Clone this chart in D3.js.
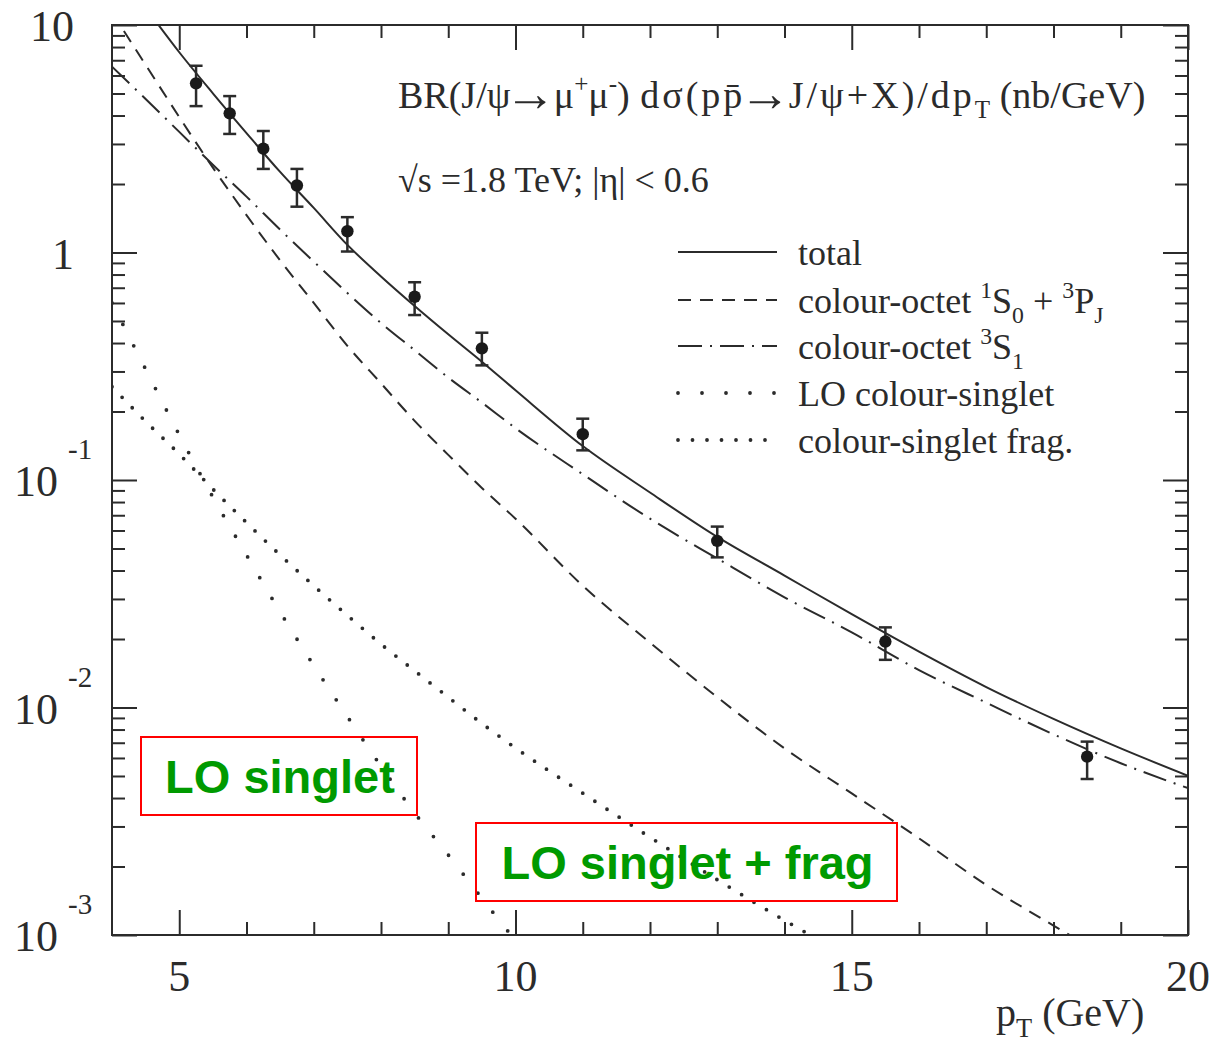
<!DOCTYPE html>
<html>
<head>
<meta charset="utf-8">
<script src="https://cdn.jsdelivr.net/npm/d3@7"></script>
<style>
  html, body { margin: 0; padding: 0; background: #fff; }
  svg { display: block; }
</style>
</head>
<body>
<svg id="chart" width="1210" height="1043"></svg>
<script>
// ---- data: J/psi differential cross-section, p pbar at sqrt(s) = 1.8 TeV ----
const ptGrid = [4, 4.5, 5, 5.5, 6, 6.5, 7, 7.5, 8, 8.5, 9, 9.5, 10, 11, 12, 13, 14, 15, 16, 17, 18, 19, 20];

// theory curves (nb/GeV), one value per ptGrid entry (shorter arrays stop early)
const totalXsec   = [18.6, 11.9, 7.59, 5.01, 3.35, 2.26, 1.57, 1.08, 0.785, 0.582, 0.437, 0.331, 0.248,
                     0.141, 0.0881, 0.0562, 0.0380, 0.0257, 0.0176, 0.0123, 0.00891, 0.00661, 0.00501];
const octetS0PJ   = [11.35, 6.68, 3.94, 2.36, 1.46, 0.923, 0.600, 0.389, 0.266, 0.182, 0.129, 0.0923, 0.0676,
                     0.0343, 0.0193, 0.0111, 0.00661, 0.00419, 0.00266, 0.00166, 0.00110, 0.000741, 0.000501];
const octetS1     = [6.56, 4.73, 3.39, 2.43, 1.76, 1.26, 0.912, 0.664, 0.490, 0.372, 0.282, 0.219, 0.169,
                     0.106, 0.0676, 0.0452, 0.0305, 0.0214, 0.0146, 0.0105, 0.00762, 0.00569, 0.00442];
const loSinglet   = [0.600, 0.307, 0.158, 0.0841, 0.0468, 0.0263, 0.0153, 0.00912, 0.00552, 0.00344,
                     0.00225, 0.00145, 0.000944, 0.000407];
const singletFrag = [0.257, 0.181, 0.130, 0.0912, 0.0650, 0.0468, 0.0343, 0.0254, 0.0190, 0.0145,
                     0.0111, 0.00851, 0.00664, 0.00420, 0.00269, 0.00175, 0.00116, 0.000794];

// measured points with error bars
const dataPt   = [5.25, 5.75, 6.25, 6.75, 7.5, 8.5, 9.5, 11, 13, 15.5, 18.5];
const dataXsec = [5.54, 4.09, 2.86, 1.97, 1.24, 0.639, 0.379, 0.159, 0.0540, 0.0195, 0.00608];
const dataLow  = [4.40, 3.32, 2.33, 1.59, 1.01, 0.531, 0.319, 0.135, 0.0457, 0.0162, 0.00485];
const dataHigh = [6.62, 4.87, 3.42, 2.33, 1.43, 0.740, 0.444, 0.186, 0.0624, 0.0225, 0.00708];

// axis ticks
const xMajorTicks = [5, 10, 15, 20];
const xMinorTicks = [6, 7, 8, 9, 11, 12, 13, 14, 16, 17, 18, 19];
const yMajorTicks = [10, 1, 0.1, 0.01, 0.001];
const yTickMantissa = ["10", "1", "10", "10", "10"];
const yTickExponent = ["", "", "-1", "-2", "-3"];

// legend entries (rich text parts: sup / sub)
const legendNames = [
  [{t: "total"}],
  [{t: "colour-octet "}, {t: "1", sup: true}, {t: "S"}, {t: "0", sub: true}, {t: " + "}, {t: "3", sup: true}, {t: "P"}, {t: "J", sub: true}],
  [{t: "colour-octet "}, {t: "3", sup: true}, {t: "S"}, {t: "1", sub: true}],
  [{t: "LO colour-singlet"}],
  [{t: "colour-singlet frag."}]
];

// ---- layout ----
const W = 1210, H = 1043;
const plot = {left: 112, right: 1188, top: 25, bottom: 935};
const ink = "#2b2b2b";
const serif = "'Liberation Serif', 'Times New Roman', Times, serif";
const sans = "'Liberation Sans', Arial, Helvetica, sans-serif";

const svg = d3.select("#chart");
svg.append("rect").attr("width", W).attr("height", H).attr("fill", "#fff");

const x = d3.scaleLinear().domain([4, 20]).range([plot.left, plot.right]);
const y = d3.scaleLog().domain([0.001, 10]).range([plot.bottom, plot.top]);

// clip for curves
svg.append("defs").append("clipPath").attr("id", "plotClip")
  .append("rect")
  .attr("x", plot.left).attr("y", plot.top)
  .attr("width", plot.right - plot.left).attr("height", plot.bottom - plot.top);

// ---- ticks (inward, on all four sides) ----
const yMinor = [];
[0.001, 0.01, 0.1, 1].forEach(d => { for (let m = 2; m <= 9; m++) yMinor.push(d * m); });

function styleAxis(g) {
  g.select(".domain").remove();
  g.selectAll(".tick line").attr("stroke", ink).attr("stroke-width", 2);
  g.selectAll(".tick text").remove();
}
const majorLen = 25, minorLen = 13;
svg.append("g").attr("transform", `translate(${plot.left},0)`)
  .call(d3.axisLeft(y).tickValues(yMajorTicks).tickSize(-majorLen).tickFormat("")).call(styleAxis);
svg.append("g").attr("transform", `translate(${plot.left},0)`)
  .call(d3.axisLeft(y).tickValues(yMinor).tickSize(-minorLen).tickFormat("")).call(styleAxis);
svg.append("g").attr("transform", `translate(${plot.right},0)`)
  .call(d3.axisRight(y).tickValues(yMajorTicks).tickSize(-majorLen).tickFormat("")).call(styleAxis);
svg.append("g").attr("transform", `translate(${plot.right},0)`)
  .call(d3.axisRight(y).tickValues(yMinor).tickSize(-minorLen).tickFormat("")).call(styleAxis);
svg.append("g").attr("transform", `translate(0,${plot.bottom})`)
  .call(d3.axisBottom(x).tickValues(xMajorTicks).tickSize(-majorLen).tickFormat("")).call(styleAxis);
svg.append("g").attr("transform", `translate(0,${plot.bottom})`)
  .call(d3.axisBottom(x).tickValues(xMinorTicks).tickSize(-minorLen).tickFormat("")).call(styleAxis);
svg.append("g").attr("transform", `translate(0,${plot.top})`)
  .call(d3.axisTop(x).tickValues(xMajorTicks).tickSize(-majorLen).tickFormat("")).call(styleAxis);
svg.append("g").attr("transform", `translate(0,${plot.top})`)
  .call(d3.axisTop(x).tickValues(xMinorTicks).tickSize(-minorLen).tickFormat("")).call(styleAxis);

// frame
svg.append("rect")
  .attr("x", plot.left).attr("y", plot.top)
  .attr("width", plot.right - plot.left).attr("height", plot.bottom - plot.top)
  .attr("fill", "none").attr("stroke", ink).attr("stroke-width", 2);

// ---- tick labels ----
const tickFont = 44;
svg.append("g").selectAll("text").data(xMajorTicks).join("text")
  .attr("x", d => x(d)).attr("y", plot.bottom + 56)
  .attr("text-anchor", "middle")
  .attr("font-family", serif).attr("font-size", tickFont).attr("fill", ink)
  .text(d => d);

const yLab = svg.append("g").attr("font-family", serif).attr("fill", ink);
yMajorTicks.forEach((v, i) => {
  const yy = y(v) + 16;
  if (yTickExponent[i]) {
    yLab.append("text").attr("x", 14).attr("y", yy)
      .attr("font-size", tickFont).text(yTickMantissa[i]);
    yLab.append("text").attr("x", 68).attr("y", yy - 37)
      .attr("font-size", 29).text(yTickExponent[i]);
  } else {
    yLab.append("text").attr("x", 74).attr("y", yy)
      .attr("text-anchor", "end")
      .attr("font-size", tickFont).text(yTickMantissa[i]);
  }
});

// rich text helper: superscripts / subscripts / small baseline nudges through dy
function richText(sel, parts, size) {
  let cur = 0;
  parts.forEach(p => {
    const script = p.sup || p.sub;
    const target = p.sup ? -size * 0.42 : p.sub ? size * 0.27 : (p.shift || 0);
    const ts = sel.append("tspan")
      .attr("dy", target - cur)
      .attr("font-size", script ? size * 0.66 : (p.scale ? size * p.scale : size))
      .text(p.t);
    if (p.dx) ts.attr("dx", p.dx);
    if (p.spacing) ts.attr("letter-spacing", p.spacing);
    cur = target;
  });
}

// axis title
const xTitle = svg.append("text").attr("x", 996).attr("y", 1026)
  .attr("font-family", serif).attr("fill", ink).attr("font-size", 40);
richText(xTitle, [{t: "p"}, {t: "T", sub: true}, {t: " (GeV)"}], 40);

// ---- plot title ----
const titleSize = 38;
const arrow = {t: "\u2192", scale: 1.35, shift: 3, dx: -6};
const title = svg.append("text").attr("x", 398).attr("y", 108)
  .attr("font-family", serif).attr("fill", ink).attr("font-size", titleSize);
richText(title, [
  {t: "BR(J/\u03c8"}, arrow, {t: "\u03bc", dx: -2},
  {t: "+", sup: true}, {t: "\u03bc"}, {t: "-", sup: true},
  {t: ") "}, {t: "d\u03c3(pp\u0304", spacing: 3, dx: 1}, arrow,
  {t: "J/\u03c8+X)/dp", spacing: 3, dx: -2}, {t: "T", sub: true}, {t: " (nb/GeV)"}
], titleSize);

svg.append("text").attr("x", 398).attr("y", 192)
  .attr("font-family", serif).attr("fill", ink).attr("font-size", 36)
  .text("\u221as =1.8 TeV; |\u03b7| < 0.6");

// ---- curves ----
const line = d3.line()
  .x(d => x(d[0])).y(d => y(d[1]))
  .curve(d3.curveMonotoneX);

const series = [
  {values: totalXsec,   dash: null,           cap: "butt"},
  {values: octetS0PJ,   dash: "13,9",         cap: "butt"},
  {values: octetS1,     dash: "24,8,2,8",     cap: "butt"},
  {values: loSinglet,   dash: "0,24",         cap: "round"},
  {values: singletFrag, dash: "0,14.5",       cap: "round"}
];
const curves = svg.append("g").attr("clip-path", "url(#plotClip)");
series.forEach(s => {
  curves.append("path")
    .datum(s.values.map((v, i) => [ptGrid[i], v]))
    .attr("d", line)
    .attr("fill", "none")
    .attr("stroke", ink)
    .attr("stroke-width", s.cap === "round" ? 3.8 : 2)
    .attr("stroke-linecap", s.cap)
    .attr("stroke-dasharray", s.dash);
});

// ---- data points ----
const pts = svg.append("g");
const capHalf = 6.5;
dataPt.forEach((pt, i) => {
  const cx = x(pt);
  pts.append("line").attr("x1", cx).attr("x2", cx)
    .attr("y1", y(dataLow[i])).attr("y2", y(dataHigh[i]))
    .attr("stroke", ink).attr("stroke-width", 2.5);
  [dataLow[i], dataHigh[i]].forEach(v => {
    pts.append("line").attr("x1", cx - capHalf).attr("x2", cx + capHalf)
      .attr("y1", y(v)).attr("y2", y(v))
      .attr("stroke", ink).attr("stroke-width", 2.5);
  });
  pts.append("circle").attr("cx", cx).attr("cy", y(dataXsec[i])).attr("r", 6.2).attr("fill", "#1a1a1a");
});

// ---- legend ----
const legendRows = [252, 300, 346, 393, 440];
const legend = svg.append("g");
series.forEach((s, i) => {
  legend.append("line")
    .attr("x1", 678).attr("x2", 777)
    .attr("y1", legendRows[i]).attr("y2", legendRows[i])
    .attr("stroke", ink)
    .attr("stroke-width", s.cap === "round" ? 3.8 : 2)
    .attr("stroke-linecap", s.cap)
    .attr("stroke-dasharray", s.dash);
  const t = legend.append("text").attr("x", 798).attr("y", legendRows[i] + 13)
    .attr("font-family", serif).attr("fill", ink).attr("font-size", 36);
  richText(t, legendNames[i], 36);
});

// ---- highlighted annotations ----
const callouts = [
  {text: "LO singlet",        x0: 141, y0: 737, x1: 417, y1: 815},
  {text: "LO singlet + frag", x0: 476, y0: 823, x1: 897, y1: 901}
];
const ann = svg.append("g");
callouts.forEach(c => {
  ann.append("rect")
    .attr("x", c.x0).attr("y", c.y0)
    .attr("width", c.x1 - c.x0).attr("height", c.y1 - c.y0)
    .attr("fill", "none").attr("stroke", "#ff0000").attr("stroke-width", 2);
  ann.append("text")
    .attr("x", (c.x0 + c.x1) / 2 + 1).attr("y", c.y1 - 22)
    .attr("text-anchor", "middle")
    .attr("font-family", sans).attr("font-weight", "bold")
    .attr("font-size", 47).attr("fill", "#009a00")
    .text(c.text);
});
</script>
</body>
</html>
